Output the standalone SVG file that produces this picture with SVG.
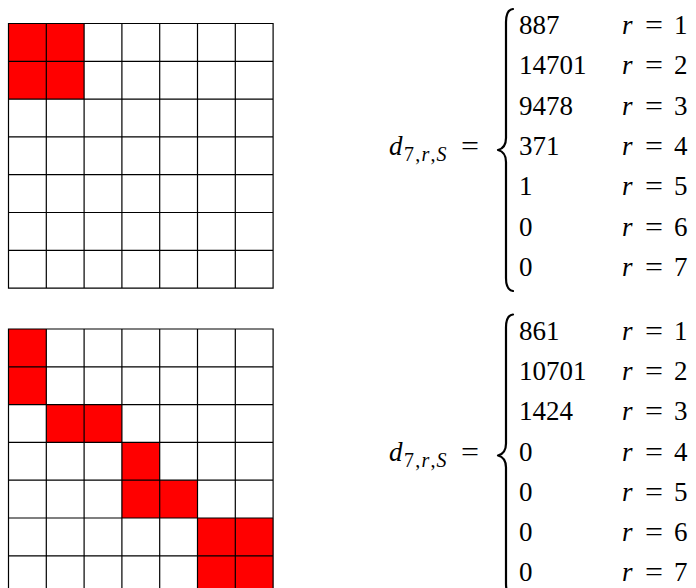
<svg xmlns="http://www.w3.org/2000/svg" width="696" height="588" viewBox="0 0 696 588">
<style>
.bg{fill:#fff}
.red{fill:#ff0000}
.grid{fill:none;stroke:#000;stroke-width:1.2}
.t{font-family:"Liberation Serif","DejaVu Serif",serif;font-size:27px;fill:#000}
.i{font-style:italic}
.sub{font-family:"Liberation Serif","DejaVu Serif",serif;font-size:20px;letter-spacing:1.2px;fill:#000}
.brace{fill:none;stroke:#000;stroke-width:2.2;stroke-linejoin:round;stroke-linecap:round}
</style>
<rect class="bg" x="0" y="0" width="696" height="588"/>
<defs>
<path id="gridlines" d="M8.5,0H273.1V264.6H8.5Z M46.3,0V264.6 M84.1,0V264.6 M121.9,0V264.6 M159.7,0V264.6 M197.5,0V264.6 M235.3,0V264.6 M8.5,37.8H273.1 M8.5,75.6H273.1 M8.5,113.4H273.1 M8.5,151.2H273.1 M8.5,189H273.1 M8.5,226.8H273.1"/>
</defs>
<g id="grid1" transform="translate(0,23.5)">
<rect class="red" x="8.5" y="0" width="75.6" height="75.6"/>
<use href="#gridlines" class="grid"/>
</g>
<g id="grid2" transform="translate(0,329)">
<rect class="red" x="8.5" y="0" width="37.8" height="75.6"/>
<rect class="red" x="46.3" y="75.6" width="75.6" height="37.8"/>
<rect class="red" x="121.9" y="113.4" width="37.8" height="75.6"/>
<rect class="red" x="159.7" y="151.2" width="37.8" height="37.8"/>
<rect class="red" x="197.5" y="189" width="75.6" height="75.6"/>
<use href="#gridlines" class="grid"/>
</g>
<g id="cases1">
<text class="t i" x="389" y="155">d</text>
<text class="sub" x="404" y="161">7,<tspan class="i">r</tspan>,<tspan class="i">S</tspan></text>
<text class="t" x="461" y="155" textLength="18" lengthAdjust="spacingAndGlyphs">=</text>
<path class="brace" d="M513,9 Q506,10 506,22 L506,138 Q506,148 498,150 Q506,152 506,162 L506,278 Q506,290 513,291"/>
<g class="t">
<text x="519" y="34">887</text>
<text x="519" y="74.3">14701</text>
<text x="519" y="114.6">9478</text>
<text x="519" y="155">371</text>
<text x="519" y="195.2">1</text>
<text x="519" y="235.5">0</text>
<text x="519" y="275.8">0</text>
</g>
<g class="t">
<text x="622" y="34" class="i">r</text><text x="645" y="34" textLength="18" lengthAdjust="spacingAndGlyphs">=</text><text x="674" y="34">1</text>
<text x="622" y="74.3" class="i">r</text><text x="645" y="74.3" textLength="18" lengthAdjust="spacingAndGlyphs">=</text><text x="674" y="74.3">2</text>
<text x="622" y="114.6" class="i">r</text><text x="645" y="114.6" textLength="18" lengthAdjust="spacingAndGlyphs">=</text><text x="674" y="114.6">3</text>
<text x="622" y="155" class="i">r</text><text x="645" y="155" textLength="18" lengthAdjust="spacingAndGlyphs">=</text><text x="674" y="155">4</text>
<text x="622" y="195.2" class="i">r</text><text x="645" y="195.2" textLength="18" lengthAdjust="spacingAndGlyphs">=</text><text x="674" y="195.2">5</text>
<text x="622" y="235.5" class="i">r</text><text x="645" y="235.5" textLength="18" lengthAdjust="spacingAndGlyphs">=</text><text x="674" y="235.5">6</text>
<text x="622" y="275.8" class="i">r</text><text x="645" y="275.8" textLength="18" lengthAdjust="spacingAndGlyphs">=</text><text x="674" y="275.8">7</text>
</g>
</g>
<g id="cases2" transform="translate(0,305.5)">
<text class="t i" x="389" y="155">d</text>
<text class="sub" x="404" y="161">7,<tspan class="i">r</tspan>,<tspan class="i">S</tspan></text>
<text class="t" x="461" y="155" textLength="18" lengthAdjust="spacingAndGlyphs">=</text>
<path class="brace" d="M513,9 Q506,10 506,22 L506,138 Q506,148 498,150 Q506,152 506,162 L506,278 Q506,290 513,291"/>
<g class="t">
<text x="519" y="34">861</text>
<text x="519" y="74.3">10701</text>
<text x="519" y="114.6">1424</text>
<text x="519" y="155">0</text>
<text x="519" y="195.2">0</text>
<text x="519" y="235.5">0</text>
<text x="519" y="275.8">0</text>
</g>
<g class="t">
<text x="622" y="34" class="i">r</text><text x="645" y="34" textLength="18" lengthAdjust="spacingAndGlyphs">=</text><text x="674" y="34">1</text>
<text x="622" y="74.3" class="i">r</text><text x="645" y="74.3" textLength="18" lengthAdjust="spacingAndGlyphs">=</text><text x="674" y="74.3">2</text>
<text x="622" y="114.6" class="i">r</text><text x="645" y="114.6" textLength="18" lengthAdjust="spacingAndGlyphs">=</text><text x="674" y="114.6">3</text>
<text x="622" y="155" class="i">r</text><text x="645" y="155" textLength="18" lengthAdjust="spacingAndGlyphs">=</text><text x="674" y="155">4</text>
<text x="622" y="195.2" class="i">r</text><text x="645" y="195.2" textLength="18" lengthAdjust="spacingAndGlyphs">=</text><text x="674" y="195.2">5</text>
<text x="622" y="235.5" class="i">r</text><text x="645" y="235.5" textLength="18" lengthAdjust="spacingAndGlyphs">=</text><text x="674" y="235.5">6</text>
<text x="622" y="275.8" class="i">r</text><text x="645" y="275.8" textLength="18" lengthAdjust="spacingAndGlyphs">=</text><text x="674" y="275.8">7</text>
</g>
</g>
</svg>
